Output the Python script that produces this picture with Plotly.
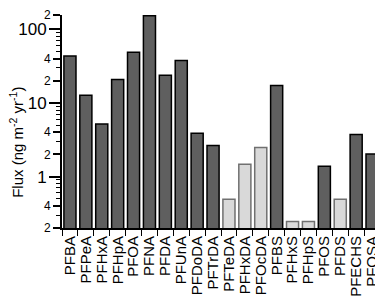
import math
import plotly.graph_objects as go

categories = ["PFBA", "PFPeA", "PFHxA", "PFHpA", "PFOA", "PFNA", "PFDA", "PFUnA",
              "PFDoDA", "PFTrDA", "PFTeDA", "PFHxDA", "PFOcDA", "PFBS", "PFHxS",
              "PFHpS", "PFOS", "PFDS", "PFECHS", "PFOSA"]
flux = [43.6, 12.7, 5.2, 20.8, 49.1, 153, 23.9, 37.9,
        3.88, 2.64, 0.49, 1.47, 2.48, 17.3, 0.245,
        0.245, 1.38, 0.49, 3.73, 2.03]
light = [False, False, False, False, False, False, False, False,
         False, False, True, True, True, False, True,
         True, False, True, False, False]

y_min = 0.2
y_max = 157
small_tick_vals = [0.2, 0.4, 2, 4, 20, 40, 157]
small_tick_text = ["2", "4", "2", "4", "2", "4", "2"]
decade_tick_vals = [1, 10, 100]
decade_tick_text = ["1", "10", "100"]
minor_vals = [0.3, 0.5, 0.6, 0.7, 0.8, 0.9, 3, 5, 6, 7, 8, 9, 30, 50, 60, 70, 80, 90]

fill = ["#d9d9d9" if l else "#5f5f5f" for l in light]
edge = ["#707070" if l else "#000000" for l in light]

fig = go.Figure()
fig.add_trace(go.Bar(
    x=categories, y=flux,
    marker=dict(color=fill, line=dict(color=edge, width=1.5)),
    width=0.76,
))
# invisible companion trace so the overlaid decade axis is drawn
fig.add_trace(go.Scatter(x=categories, y=flux, yaxis="y2", mode="none",
                         hoverinfo="skip", showlegend=False))

yr = [math.log10(y_min), math.log10(y_max)]

# page body has an 8px margin, so the figure is sized to fit inside the window
fig.update_layout(
    width=375, height=296,
    margin=dict(l=54, r=3, t=7, b=76, autoexpand=False),
    paper_bgcolor="white", plot_bgcolor="white",
    font=dict(family="Liberation Sans, Arial, sans-serif", color="black"),
    showlegend=False,
    xaxis=dict(
        type="category",
        range=[-0.5, len(categories) - 0.5],
        automargin=False,
        tickmode="array", tickvals=categories, ticktext=categories,
        showline=True, linecolor="black", linewidth=2,
        ticks="outside", tickson="boundaries", ticklen=6, tickwidth=1.2, tickcolor="black",
        tickangle=-90, tickfont=dict(size=15),
        showgrid=False, zeroline=False,
    ),
    yaxis=dict(
        type="log", range=yr, automargin=False,
        showline=True, linecolor="black", linewidth=2,
        ticks="outside", ticklen=7, tickwidth=1.5, tickcolor="black",
        tickmode="array", tickvals=small_tick_vals, ticktext=small_tick_text,
        tickfont=dict(size=12),
        ticklabelstandoff=0,
        minor=dict(tickvals=minor_vals, ticks="outside", ticklen=4, tickwidth=1.2,
                   tickcolor="black", showgrid=False),
        showgrid=False, zeroline=False,
    ),
    yaxis2=dict(
        type="log", range=yr, automargin=False,
        overlaying="y", side="left", anchor="x",
        showline=False,
        ticks="outside", ticklen=12, tickwidth=1.5, tickcolor="black",
        tickmode="array", tickvals=decade_tick_vals, ticktext=decade_tick_text,
        tickfont=dict(size=17),
        ticklabelstandoff=-1,
        showgrid=False, zeroline=False,
    ),
)
fig.add_annotation(
    text="Flux (ng m<sup>-2</sup> yr<sup>-1</sup>)",
    x=0, xref="paper", xshift=-45,
    y=0.40, yref="paper",
    textangle=-90, showarrow=False,
    font=dict(size=15),
    xanchor="center", yanchor="middle",
)
fig.write_html("out.html")
